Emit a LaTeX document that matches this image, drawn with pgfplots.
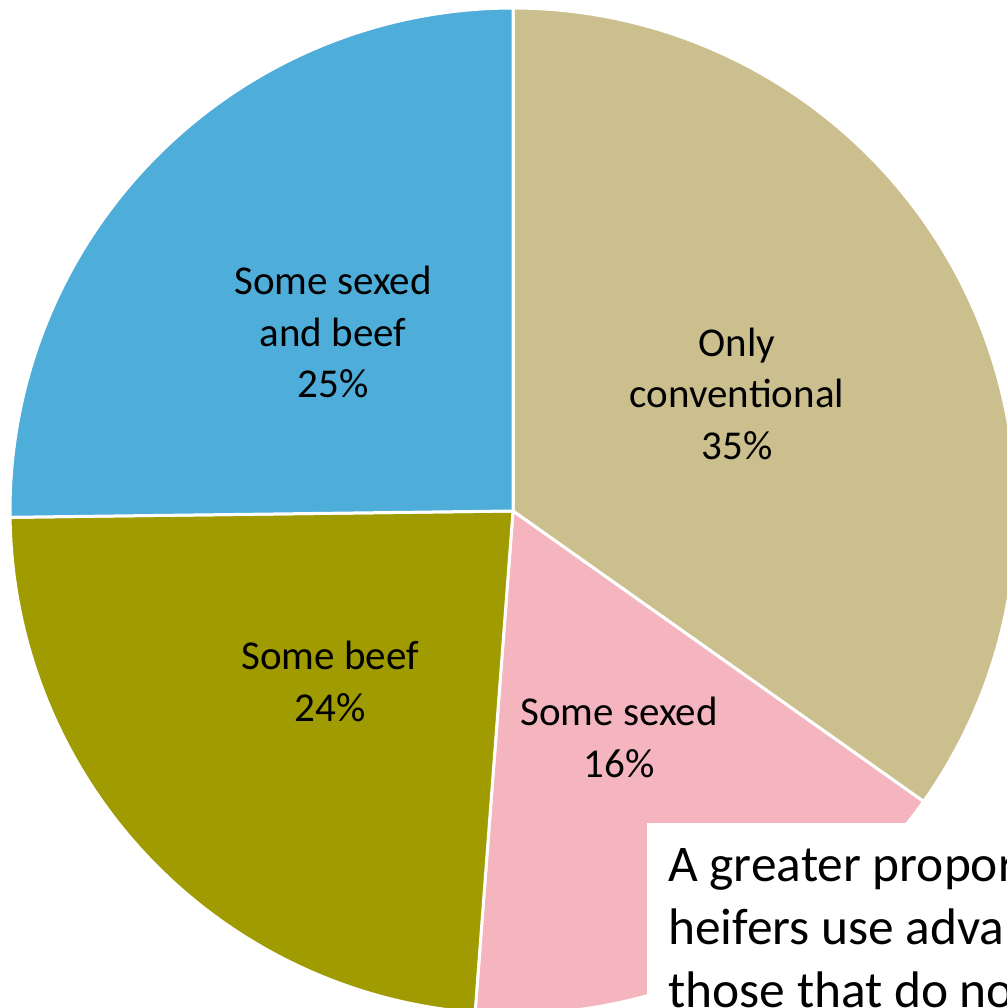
\documentclass[border=0pt]{standalone}
\usepackage{pgfplots}
\pgfplotsset{compat=1.18}
\usepackage{fontspec}
\setmainfont{Carlito}
\definecolor{tanc}{RGB}{204,191,142}
\definecolor{pinkc}{RGB}{244,181,190}
\definecolor{olivec}{RGB}{160,155,0}
\definecolor{bluec}{RGB}{79,173,218}
\newcommand{\lab}{\fontsize{20.5}{25}\selectfont}
\newcommand{\boxf}{\fontsize{25.7}{30}\selectfont}
\begin{document}
\begin{tikzpicture}
\useasboundingbox (0,0) rectangle (503.5pt,504pt);
\clip (0,0) rectangle (503.5pt,504pt);
% shares (percent)
\def\vA{34.8}\def\vB{16.4}\def\vC{23.6}\def\vD{25.2}
\pgfmathsetmacro{\aA}{90}
\pgfmathsetmacro{\aB}{\aA-3.6*\vA}
\pgfmathsetmacro{\aC}{\aB-3.6*\vB}
\pgfmathsetmacro{\aD}{\aC-3.6*\vC}
\pgfmathsetmacro{\aE}{\aD-3.6*\vD}
\begin{axis}[hide axis, x=0.5pt, y=0.5pt, xmin=0, xmax=1007, ymin=0, ymax=1008,
  at={(0,0)}, anchor=south west, clip=false]
\addplot[fill=tanc, draw=white, line width=1.5pt, line join=round, domain=\aB:\aA, samples=150]
  ({513+503*cos(x)},{497+503*sin(x)}) -- (axis cs:513,497) -- cycle;
\addplot[fill=pinkc, draw=white, line width=1.5pt, line join=round, domain=\aC:\aB, samples=100]
  ({513+503*cos(x)},{497+503*sin(x)}) -- (axis cs:513,497) -- cycle;
\addplot[fill=olivec, draw=white, line width=1.5pt, line join=round, domain=\aD:\aC, samples=120]
  ({513+503*cos(x)},{497+503*sin(x)}) -- (axis cs:513,497) -- cycle;
\addplot[fill=bluec, draw=white, line width=1.5pt, line join=round, domain=\aE:\aD, samples=120]
  ({513+503*cos(x)},{497+503*sin(x)}) -- (axis cs:513,497) -- cycle;
% text box
\fill[white] (axis cs:647,185) rectangle (axis cs:1200,-60);
\node[anchor=base west, font=\boxf, inner sep=0pt] at (axis cs:668,126) {A greater proportion of herds that rear their own};
\node[anchor=base west, font=\boxf, inner sep=0pt] at (axis cs:668,63) {heifers use advanced reproductive technologies than};
\node[anchor=base west, font=\boxf, inner sep=0pt] at (axis cs:668,1) {those that do not};
% labels
\node[anchor=base, font=\lab, inner sep=0pt] at (axis cs:737,651) {Only};
\node[anchor=base, font=\lab, inner sep=0pt] at (axis cs:737,600) {conventional};
\node[anchor=base, font=\lab, inner sep=0pt] at (axis cs:737,548) {35\%};
\node[anchor=base, font=\lab, inner sep=0pt] at (axis cs:333,713) {Some sexed};
\node[anchor=base, font=\lab, inner sep=0pt] at (axis cs:333,661) {and beef};
\node[anchor=base, font=\lab, inner sep=0pt] at (axis cs:333,610) {25\%};
\node[anchor=base, font=\lab, inner sep=0pt] at (axis cs:330,338) {Some beef};
\node[anchor=base, font=\lab, inner sep=0pt] at (axis cs:330,286) {24\%};
\node[anchor=base, font=\lab, inner sep=0pt] at (axis cs:619,282) {Some sexed};
\node[anchor=base, font=\lab, inner sep=0pt] at (axis cs:619,230) {16\%};
\end{axis}
\end{tikzpicture}
\end{document}
